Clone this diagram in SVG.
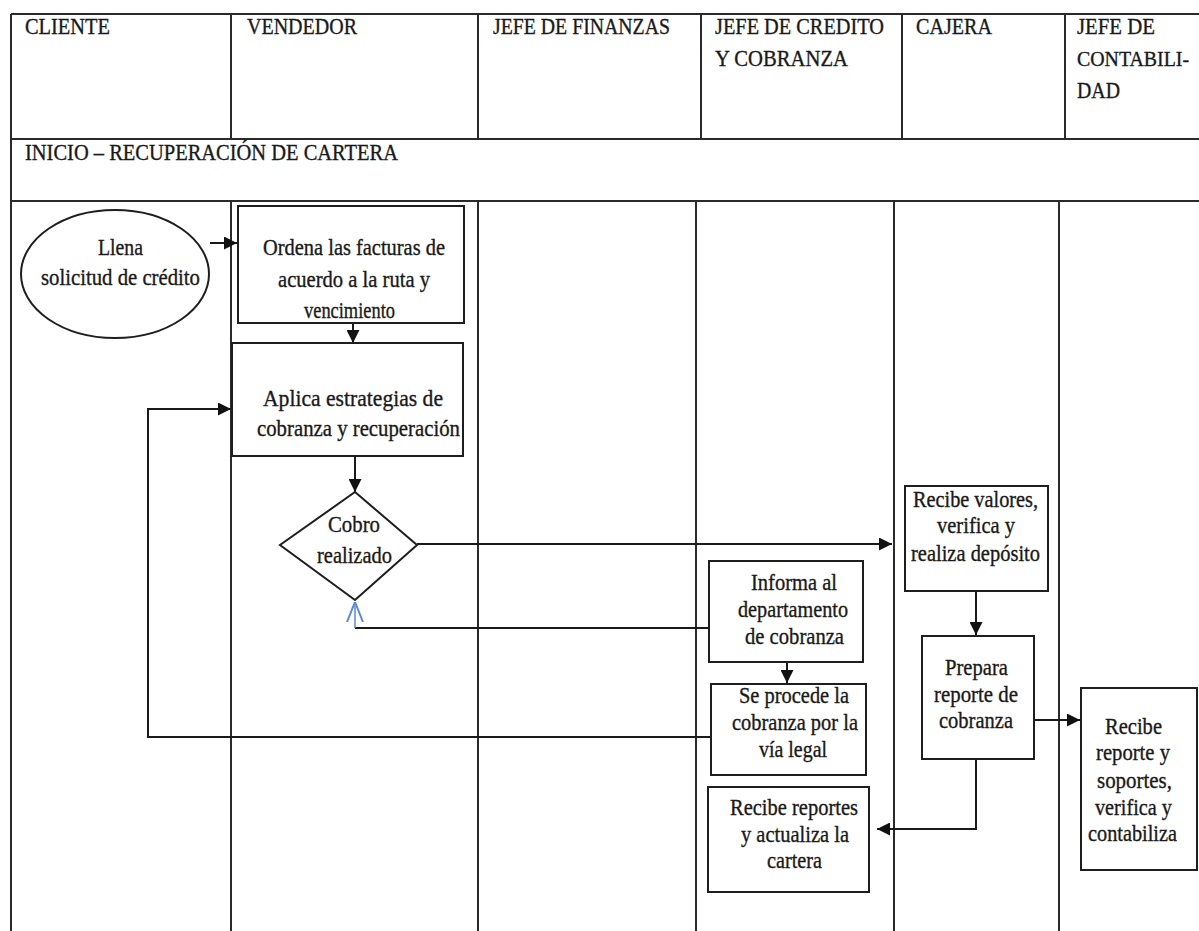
<svg xmlns="http://www.w3.org/2000/svg" width="1199" height="931" viewBox="0 0 1199 931">
  <style>
    .grid { stroke: #2a2a2a; stroke-width: 2; fill: none; }
    .box { stroke: #1e1e1e; stroke-width: 2; fill: #ffffff; }
    .txt { font-family: "Liberation Serif", "Times New Roman", "DejaVu Serif", serif; font-size: 23px; fill: #1a1a1a; stroke: #1a1a1a; stroke-width: 0.35; }
    .con { stroke: #1a1a1a; stroke-width: 2; fill: none; }
  </style>
  <defs>
    <marker id="arrow" viewBox="0 0 10 10" refX="10" refY="5" markerWidth="13" markerHeight="13" markerUnits="userSpaceOnUse" orient="auto">
      <path d="M0,0 L10,5 L0,10 z" fill="#111111"/>
    </marker>
    <marker id="open" viewBox="0 0 10 10" refX="10" refY="5" markerWidth="20" markerHeight="20" markerUnits="userSpaceOnUse" orient="auto">
      <path d="M0,1 L10,5 L0,9" fill="none" stroke="#5b8bd0" stroke-width="1"/>
    </marker>
  </defs>
  <rect width="1199" height="931" fill="#ffffff"/>

  <!-- swimlane table -->
  <g id="lanes" class="grid">
    <line x1="11" y1="14" x2="1199" y2="14"/>
    <line x1="11" y1="14" x2="11" y2="931"/>
    <line x1="11" y1="139" x2="1199" y2="139"/>
    <line x1="11" y1="201" x2="1199" y2="201"/>
    <!-- header dividers -->
    <line x1="231" y1="14" x2="231" y2="139"/>
    <line x1="478" y1="14" x2="478" y2="139"/>
    <line x1="701" y1="14" x2="701" y2="139"/>
    <line x1="902" y1="14" x2="902" y2="139"/>
    <line x1="1065" y1="14" x2="1065" y2="139"/>
    <!-- body dividers -->
    <line x1="231" y1="201" x2="231" y2="931"/>
    <line x1="478" y1="201" x2="478" y2="931"/>
    <line x1="696" y1="201" x2="696" y2="931"/>
    <line x1="894" y1="201" x2="894" y2="931"/>
    <line x1="1059" y1="201" x2="1059" y2="931"/>
  </g>

  <g id="headers" class="txt">
    <text x="25" y="34" textLength="85" lengthAdjust="spacingAndGlyphs">CLIENTE</text>
    <text x="247" y="34" textLength="110" lengthAdjust="spacingAndGlyphs">VENDEDOR</text>
    <text x="493" y="34" textLength="177" lengthAdjust="spacingAndGlyphs">JEFE DE FINANZAS</text>
    <text x="715" y="34" textLength="169" lengthAdjust="spacingAndGlyphs">JEFE DE CREDITO</text>
    <text x="715" y="66" textLength="133" lengthAdjust="spacingAndGlyphs">Y COBRANZA</text>
    <text x="916" y="34" textLength="76" lengthAdjust="spacingAndGlyphs">CAJERA</text>
    <text x="1077" y="34" textLength="78" lengthAdjust="spacingAndGlyphs">JEFE DE</text>
    <text x="1077" y="66" font-size="20.5" textLength="112" lengthAdjust="spacingAndGlyphs">CONTABILI-</text>
    <text x="1077" y="98" textLength="43" lengthAdjust="spacingAndGlyphs">DAD</text>
    <text x="25" y="160" textLength="373" lengthAdjust="spacingAndGlyphs">INICIO – RECUPERACIÓN DE CARTERA</text>
  </g>

  <!-- connectors -->
  <g id="connectors">
    <line class="con" x1="210" y1="243" x2="237" y2="243" marker-end="url(#arrow)"/>
    <line class="con" x1="353" y1="323" x2="353" y2="343" marker-end="url(#arrow)"/>
    <line class="con" x1="355" y1="456" x2="355" y2="492" marker-end="url(#arrow)"/>
    <line class="con" x1="417" y1="544" x2="892" y2="544" marker-end="url(#arrow)"/>
    <polyline class="con" points="709,628 355,628"/>
    <line x1="355" y1="628" x2="355" y2="602" stroke="#5b8bd0" stroke-width="1.5" marker-end="url(#open)"/>
    <line class="con" x1="787" y1="662" x2="787" y2="683" marker-end="url(#arrow)"/>
    <polyline class="con" points="711,737 148,737 148,409 231,409" marker-end="url(#arrow)"/>
    <line class="con" x1="976" y1="591" x2="976" y2="635" marker-end="url(#arrow)"/>
    <line class="con" x1="1034" y1="720" x2="1080" y2="720" marker-end="url(#arrow)"/>
    <polyline class="con" points="976,759 976,829 877,829" marker-end="url(#arrow)"/>
  </g>

  <g id="n-llena">
    <ellipse class="box" cx="115" cy="274" rx="94" ry="64"/>
    <text class="txt" x="98" y="255" textLength="45" lengthAdjust="spacingAndGlyphs">Llena</text>
    <text class="txt" x="41" y="285" textLength="159" lengthAdjust="spacingAndGlyphs">solicitud  de crédito</text>
  </g>

  <g id="n-ordena">
    <rect class="box" x="238" y="206" width="226" height="117"/>
    <text class="txt" x="263" y="255" textLength="182" lengthAdjust="spacingAndGlyphs">Ordena las facturas de</text>
    <text class="txt" x="278" y="287" textLength="152" lengthAdjust="spacingAndGlyphs">acuerdo a la ruta y</text>
    <text class="txt" x="304" y="318" textLength="91" lengthAdjust="spacingAndGlyphs">vencimiento</text>
  </g>

  <g id="n-aplica">
    <rect class="box" x="232" y="343" width="231" height="113"/>
    <text class="txt" x="263" y="406" textLength="180" lengthAdjust="spacingAndGlyphs">Aplica estrategias de</text>
    <text class="txt" x="257" y="436" textLength="203" lengthAdjust="spacingAndGlyphs">cobranza y recuperación</text>
  </g>

  <g id="n-cobro">
    <polygon class="box" points="355,492 417,545 355,600 280,545"/>
    <text class="txt" x="328" y="532" textLength="52" lengthAdjust="spacingAndGlyphs">Cobro</text>
    <text class="txt" x="317" y="563" textLength="75" lengthAdjust="spacingAndGlyphs">realizado</text>
  </g>

  <g id="n-recibe-valores">
    <rect class="box" x="905" y="486" width="143" height="105"/>
    <text class="txt" x="913" y="507" textLength="125" lengthAdjust="spacingAndGlyphs">Recibe valores,</text>
    <text class="txt" x="937" y="533" textLength="78" lengthAdjust="spacingAndGlyphs">verifica y</text>
    <text class="txt" x="911" y="561" textLength="129" lengthAdjust="spacingAndGlyphs">realiza depósito</text>
  </g>

  <g id="n-informa">
    <rect class="box" x="709" y="561" width="154" height="101"/>
    <text class="txt" x="751" y="590" textLength="86" lengthAdjust="spacingAndGlyphs">Informa al</text>
    <text class="txt" x="738" y="617" textLength="110" lengthAdjust="spacingAndGlyphs">departamento</text>
    <text class="txt" x="745" y="644" textLength="99" lengthAdjust="spacingAndGlyphs">de cobranza</text>
  </g>

  <g id="n-legal">
    <rect class="box" x="711" y="684" width="155" height="91"/>
    <text class="txt" x="739" y="703" textLength="110" lengthAdjust="spacingAndGlyphs">Se procede la</text>
    <text class="txt" x="732" y="730" textLength="126" lengthAdjust="spacingAndGlyphs">cobranza por la</text>
    <text class="txt" x="759" y="757" textLength="68" lengthAdjust="spacingAndGlyphs">vía legal</text>
  </g>

  <g id="n-prepara">
    <rect class="box" x="922" y="636" width="112" height="123"/>
    <text class="txt" x="945" y="675" textLength="63" lengthAdjust="spacingAndGlyphs">Prepara</text>
    <text class="txt" x="934" y="702" textLength="84" lengthAdjust="spacingAndGlyphs">reporte de</text>
    <text class="txt" x="939" y="728" textLength="74" lengthAdjust="spacingAndGlyphs">cobranza</text>
  </g>

  <g id="n-contabiliza">
    <rect class="box" x="1081" y="688" width="116" height="182"/>
    <text class="txt" x="1105" y="734" textLength="57" lengthAdjust="spacingAndGlyphs">Recibe</text>
    <text class="txt" x="1096" y="760" textLength="74" lengthAdjust="spacingAndGlyphs">reporte y</text>
    <text class="txt" x="1097" y="788" textLength="75" lengthAdjust="spacingAndGlyphs">soportes,</text>
    <text class="txt" x="1095" y="815" textLength="77" lengthAdjust="spacingAndGlyphs">verifica y</text>
    <text class="txt" x="1088" y="841" textLength="89" lengthAdjust="spacingAndGlyphs">contabiliza</text>
  </g>

  <g id="n-actualiza">
    <rect class="box" x="708" y="787" width="161" height="105"/>
    <text class="txt" x="730" y="815" textLength="128" lengthAdjust="spacingAndGlyphs">Recibe reportes</text>
    <text class="txt" x="741" y="842" textLength="108" lengthAdjust="spacingAndGlyphs">y actualiza la</text>
    <text class="txt" x="767" y="868" textLength="55" lengthAdjust="spacingAndGlyphs">cartera</text>
  </g>
</svg>
